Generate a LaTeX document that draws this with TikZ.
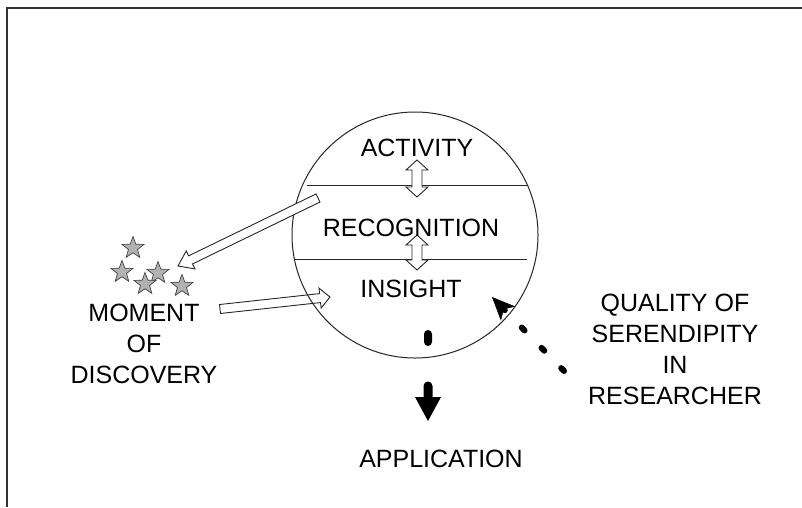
\documentclass[tikz,border=0pt]{standalone}
\usepackage{fontspec}
\setmainfont{Liberation Sans}
\usetikzlibrary{calc,arrows.meta,shapes.geometric}

% hollow block arrow: [options]{tail}{tip}{half shaft}{half head}{head length}
\newcommand\blockarrow[6][]{%
  \path coordinate (bahead) at ($(#3)!#6!(#2)$);
  \draw[#1] ($(#2)!#4!90:(#3)$) -- ($(bahead)!#4!-90:(#2)$)
    -- ($(bahead)!#5!-90:(#2)$) -- (#3) -- ($(bahead)!#5!90:(#2)$)
    -- ($(bahead)!#4!90:(#2)$) -- ($(#2)!#4!-90:(#3)$) -- cycle;
}
% vertical double-headed hollow arrow between two coordinates (top, bottom)
\newcommand\twinarrow[2]{%
  \draw[hollow] (#1) -- ++(11,10) -- ++(-6,0) -- ($(#2)+(5,-10)$) -- ++(6,0)
    -- (#2) -- ++(-11,-10) -- ++(6,0) -- ($(#1)+(-5,10)$) -- ++(-6,0) -- cycle;
}

\begin{document}
\begin{tikzpicture}[x=1pt,y=-1pt,
  lbl/.style={font=\fontsize{25}{31}\selectfont, align=center, inner sep=0pt},
  hollow/.style={draw=black!85, fill=white, line width=0.9pt, line join=miter},
  starmark/.style={star, star points=5, star point ratio=2.4, minimum size=23pt,
    inner sep=0pt, fill=gray!60, draw=black!75, line width=0.7pt},
  ]
  \useasboundingbox[fill=white] (0,0) rectangle (802,507);

  % outer frame
  \draw[line width=1.6pt, black!80] (7,507) -- (7,8) -- (802,8);

  % arrow from the moment of discovery into the circle
  \coordinate (discTail) at (220,309);
  \coordinate (discTip) at (330,297);
  \blockarrow[hollow]{discTail}{discTip}{4.5pt}{10pt}{10pt}

  % the circle and its bands
  \node[draw=black!85, line width=1pt, circle, minimum size=246pt, inner sep=0pt] (cyc) at (415,235) {};
  \draw[black!85, line width=1pt] ($(cyc.center)+(-108,-50)$) coordinate (b1l) -- ($(cyc.center)+(112,-50)$) coordinate (b1r);
  \draw[black!85, line width=1pt] ($(cyc.center)+(-121,24)$) coordinate (b2l) -- ($(cyc.center)+(112,24)$) coordinate (b2r);

  % arrow from the circle out to the stars
  \coordinate (starTail) at (318,198);
  \coordinate (starTip) at (178,266);
  \blockarrow[hollow]{starTail}{starTip}{4.5pt}{10pt}{14pt}

  % links between the bands
  \coordinate (l1t) at (417,160);
  \coordinate (l1b) at (417,197);
  \coordinate (l2t) at (417,235);
  \coordinate (l2b) at (417,270);
  \twinarrow{l1t}{l1b}
  \twinarrow{l2t}{l2b}

  % band labels
  \node[lbl] (act) at (417,148) {ACTIVITY};
  \node[lbl] (rec) at (411,228) {RECOGNITION};
  \node[lbl] (ins) at (411,289) {INSIGHT};

  % side labels
  \node[lbl] (mod) at (144,344) {MOMENT\\OF\\DISCOVERY};
  \node[lbl] (qsr) at (675,349) {QUALITY OF\\SERENDIPITY\\IN\\RESEARCHER};
  \node[lbl] (app) at (441,459) {APPLICATION};

  % stars
  \node[starmark] (s1) at (133,248) {};
  \node[starmark] (s2) at (122,272) {};
  \node[starmark] (s3) at (158,273) {};
  \node[starmark] (s4) at (145,284) {};
  \node[starmark] (s5) at (182,286) {};

  % black mark and down arrow below the circle
  \node[fill=black, minimum width=8pt, minimum height=16pt, rounded corners=4pt, inner sep=0pt] (blob) at (428,338) {};
  \fill[black] (423.5,386) arc[start angle=180, end angle=0, radius=4.5pt]
    -- (432.5,397) -- (441,397) -- (428,421) -- (415,397) -- (423.5,397) -- cycle;

  % dotted arrow from the researcher towards insight
  \coordinate (qStart) at (564,371);
  \coordinate (qEnd) at (492,297);
  \draw[black, line width=6pt, line cap=round, dash pattern=on 4pt off 24.3pt,
    -{Stealth[length=23pt, width=20pt, inset=6pt, line width=0.5pt]}] (qStart) -- (qEnd);
\end{tikzpicture}
\end{document}
